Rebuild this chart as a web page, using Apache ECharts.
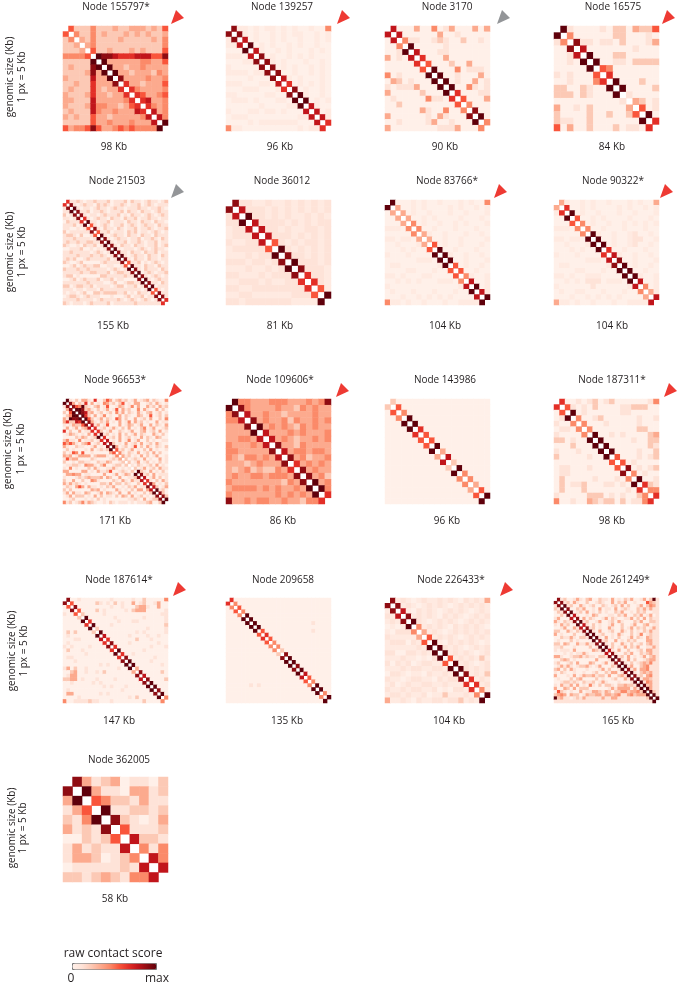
<!DOCTYPE html>
<html><head><meta charset="utf-8">
<style>html,body{margin:0;padding:0;background:#fff}#c{width:677px;height:984px}</style>
<script src="https://cdn.jsdelivr.net/npm/echarts@6/dist/echarts.min.js"></script>
</head><body><div id="c"></div>
<script>
// Upper triangles of the contact maps: each string is one row, starting at the first cell right of the diagonal.
// Levels 0-9, "a" is half a level. Rows that stop early continue with the panel's fill level.
const m155797=["522242223223332325","42242322232323223","3242222322222324","342222222222224","52232223232225","9887666777558","933333344335","9332334333","933233324","833334334","63323335","6433334","653345","67334","6434","734","74","9"];
const m139257=["8aa0a0aa0a0a00a004","8a0a00a0a0aa00a0a","70a00a0a00a00a0a","90a0a00a0a00a00","7a00a0a000a0a0","80a00a0a0a000","8a0a000a00a0","80a0a00a0a0","800a00a0a0","7a0a000a0","60a0a0a0","80a00a0","9a00a0","90a0a","7a00","70a","7a","6"];
const m3170=["70003004013000303","7000000300100000","411001210020010","90000010000000","7000110000000","600030000000","50002003000","9000401110","900100030","90100301","9004101","600011","50003","4000","800","90","4"];
const m16575=["910000102203225","40000002200010","8110110200013","700000001000","90002200000","9001102222","540000000","60000000","9000200","900002","10000","3201","501","90","6"];
const m21503=["611210112111201112021101211012","81012110212101121011201210111","9101101211012110111211011210","811201121011120211021101211","81011012111201021101210121","6101211021102112011211011","911011201110211021102110","51012101120121012110211","8102110210112011210112","511201110212011012101","91012110211021102111","8101211011201121021","910112011210112011","81021102110112012","9101110121012110","811021102112011","91012110211021","8102110211011","511201012101","91102110211","8102111021","901210112","81012101","9101211","811021","90111","5101","811","81","6"];
const m36012=["811aa1aa1a1a1a1","7111a1a1a1a1a1","911a1a1aa1a1a","71111a1a1a11","711a1aa11a1","7111a1a1a1","51a1a11a1","91a1a1a1","811a1a1","9111a1","8111a","611a","61a","5a","9"];
const m83766=["9000a0a00a000a0a004","300a0a0000a0a00a0a","30a00a000a00a000a","300a0a0000a000a0","40a00a00a0a000a","400a000a000a00","3a00a000a00a0","300a00a0000a","50a00a000a0","900a000a00","9a00a00a0","900a000a","50a00a0","500a00","4a00a","700a","90a","7a","9"];
const m90322=["3a00a0a00a000a0a003","600a0a0000a0a00a0a","90a00a000a00a000a","500a0a0000a000a0","40a00a00a0a0a0a","400a000a000a00","9a00a00a100a0","900a00a1100a","90a00a100a0","600a000a00","7a00a00a0","800a000a","90a00a0","900a00","9a00a","700a","40a","3a","7"];
const m96653=["9102033106002530231201301230210047","8302160301043120250103300120310","8549210230150013201403003120312","9982310201301503120040310030200","9872301201204130210310230120104","9620301401003021003201501202010","9520130210530200301203002041","8310213010301403120100301","7130150003013201300302103","6012013102030102401300120","6201300210130023012030100","9120103020130210031020300","6012030120103021032000","7010301401300201001","8201030120301203100","9301201502031021020","5120130102030100","4102103012030200","3120103020130012","2012103010030","2013012010201","1021012030100","2013012031","9210301020","8120301","7013020","6102031","830102","72013","9120","820","82","9"];
const m109606=["9443334443334348","843333433243433","73343323333433","8343342433434","934343243433","73334343334","7343233434","833243333","73443443","8342334","634343","83433","83423","934","94","6"];
const m143986=["2","5","4","9","9","6","5","5","9","3","7","2","9","4","4","3","5","9"];
const m187311=["600101201200000014","51010200001122200","9010000001100000","400120000001001","40001000001000","4000000002200","900101000023","90000010022","9000000021","900001002","50001012","5010000","801012","40100","9001","621","44","6"];
const m187614=["8","5","8","5","2","9","6","9","2","9","7","6","8","6","9","6","8","9","9","3","8","7","8","9","9","8","9","4"];
const m209658=["6","4","5","4","9","9","9","9","5","6","5","4","4","2","8","9","9","8","9","7","5","4","9","9","4","9"];
const m226433=["8a1a0a1aa1a1a01a1a3","8a1a0a1a1a0a1a1a1a","7a01a1a0a1a1a0a1a","8a1a1a01a1a0a1a1","91a0a1a1a0a1a1a","4a1a1a01a1a1a0","3a1a0a1a1a1a1","5a1a1a0a1a1a","9a01a1a1a0a2","91a1a0a1a1a","9a1a1a0a1a","5a1a1a2a","9a1a0a1","91a1a1","8a1a2","6a1a","6a1","4a","9"];
const m261249=["8120013102300211030102130013029","812031002001210030213001000532","91200310120021012030200130243","8002130010301103012100213131","90120301020100213001021200","71001032000110213002130130","8030210013021001130203021","912001300120310002130022","71020100130020013002301","8120100310020130212013","91030012003102010213","9012001031002014012","910301020013021032","81200301021200033","9102003102012023","9020103021300113","71030020012033","8100213002123","9120301013023","810302001233","9102012324","91300234","8130334","9102323","812034","91332","9143","923","93","92","9","9"];
const m362005=["8312301102","931103312","54221311","9112212","821013","51112","7221","414","74","7"];

// Cells of the sparse panels, as [row, column, level].
const c187614=[[0,22,2],[0,28,4],[1,9,2],[1,14,2],[1,19,3],[1,22,2],[1,25,1],[1,26,1],[2,16,1],[2,20,2],[2,21,3],[2,22,3],[2,26,1],[3,9,2],[3,17,1],[3,19,2],[3,20,3],[3,21,3],[3,22,3],[4,11,1],[4,27,1],[4,28,1],[5,28,1],[6,19,1],[6,20,1],[6,28,1],[7,28,2],[7,13,1],[8,23,1],[8,28,1],[9,20,1],[9,22,1],[10,18,1],[10,23,1],[10,26,1],[11,20,2],[12,18,1],[12,26,1],[13,24,1],[14,22,1],[15,19,1],[16,25,1],[17,24,1],[18,27,1],[20,27,2],[22,28,2],[1,10,1],[2,23,1],[1,16,1],[1,21,1],[2,13,1],[0,13,1],[0,19,1],[0,4,1],[1,26,3],[2,26,3],[3,28,1],[1,12,1],[3,11,1],[5,14,1],[6,15,1],[9,28,1],[13,28,1],[5,22,1],[11,24,1]];
const c209658=[[6,22,1],[8,22,1]];

const nodeLabels=["Node 155797*","Node 139257","Node 3170","Node 16575","Node 21503","Node 36012","Node 83766*","Node 90322*","Node 96653*","Node 109606*","Node 143986","Node 187311*","Node 187614*","Node 209658","Node 226433*","Node 261249*","Node 362005"];
const sizeLabels=["98 Kb","96 Kb","90 Kb","84 Kb","155 Kb","81 Kb","104 Kb","104 Kb","171 Kb","86 Kb","96 Kb","98 Kb","147 Kb","135 Kb","104 Kb","165 Kb","58 Kb"];
const cellCounts=[19,19,18,16,31,16,20,20,34,17,19,19,29,27,20,33,11];
const fillLevels=[3,0,0,0,1,1,0,0,1,3,0,0,0,0,1,1,1];
const matrices=[m155797,m139257,m3170,m16575,m21503,m36012,m83766,m90322,m96653,m109606,m143986,m187311,m187614,m209658,m226433,m261249,m362005];
const sparseCells={12:c187614,13:c209658};
const cornerNotes=["red","red","gray","red","gray",null,"red","red","red","red",null,"red","red",null,"red","red",null];
const palette=["#fff0e9","#fee3d8","#fcc9b5","#fcaa8e","#fb8a69","#f9553b","#e32f27","#c1151b","#8f0c12","#5f000b"];

const colX=[63,226,385,554],rowY=[26,200,399,598,777],side=105;
const titleX=[[116,282,447,613],[117,282,447,613],[115,280,445,612],[119,283,451,616],[119]];
const titleY=[7,181,380,580,760];
const sizeX=[[114,280,445,612],[113,280,445,612],[115,283,447,612],[119,287,449,618],[115]];
const sizeY=[147,326,521,721,899];
const sideX=[[10,22],[10,22],[8,21],[12,24],[12,23]];
const sideY=[77,252,449,651,828];
const noteOrigin=[[171,24],[337,24],[497,24],[662,24],[171,198],null,[494,198],[660,198],[169,397],[336,397],null,[664,397],[173,596],null,[500,596],[668,596],null];
const FONT='"Open Sans"';

const level=ch=>ch==='a'?0.5:+ch;
const grid=[],xAxis=[],yAxis=[],series=[],graphic=[];
const txt=(t,x,y,size,rot)=>({type:'text',x,y,rotation:rot||0,silent:true,style:{text:t,fill:'#231f20',font:size+'px '+FONT,textAlign:'center',textVerticalAlign:'middle'}});
matrices.forEach((rows,p)=>{
  const n=cellCounts[p],r=Math.floor(p/4),c=p%4;
  const cell={};
  for(let i=0;i<n-1;i++){
    const s=rows[i]||'';
    for(let j=i+1;j<n;j++){
      const ch=s[j-i-1];
      cell[i+'_'+j]=ch===undefined?fillLevels[p]:level(ch);
    }
  }
  (sparseCells[p]||[]).forEach(([i,j,v])=>{cell[i+'_'+j]=v;});
  const data=[];
  Object.keys(cell).forEach(k=>{
    const [i,j]=k.split('_').map(Number);
    data.push([j,i,cell[k]],[i,j,cell[k]]);
  });
  const cats=Array.from({length:n},(_,i)=>i);
  grid.push({left:colX[c],top:rowY[r],width:side,height:side,show:false});
  xAxis.push({type:'category',gridIndex:p,data:cats,show:false});
  yAxis.push({type:'category',gridIndex:p,data:cats,show:false,inverse:true});
  series.push({type:'heatmap',xAxisIndex:p,yAxisIndex:p,data,animation:false,progressive:0,silent:true,itemStyle:{borderWidth:0}});
  graphic.push(txt(nodeLabels[p],titleX[r][c],titleY[r],10));
  graphic.push(txt(sizeLabels[p],sizeX[r][c],sizeY[r],10));
  if(cornerNotes[p]){
    const [a,b]=noteOrigin[p];
    graphic.push({type:'polygon',silent:true,shape:{points:[[a,b],[a+5,b-14],[a+13,b-6]]},style:{fill:cornerNotes[p]==='red'?'#ee3a33':'#939598'}});
  }
});
rowY.forEach((_,r)=>{
  graphic.push(txt('genomic size (Kb)',sideX[r][0],sideY[r],10,Math.PI/2));
  graphic.push(txt('1 px = 5 Kb',sideX[r][1],sideY[r],10,Math.PI/2));
});
graphic.push(txt('raw contact score',113,954,12));
graphic.push(txt('0',71,979,12));
graphic.push(txt('max',157,979,12));

const chart=echarts.init(document.getElementById('c'),null,{renderer:'canvas'});
chart.setOption({animation:false,backgroundColor:'#fff',grid,xAxis,yAxis,series,graphic,tooltip:{show:false},
  visualMap:{type:'continuous',min:0,max:9,orient:'horizontal',left:72,top:963,itemWidth:6,itemHeight:84,padding:0,showLabel:false,calculable:false,hoverLink:false,seriesIndex:series.map((_,i)=>i),inRange:{color:palette},borderColor:'#777',borderWidth:1}});
</script></body></html>
